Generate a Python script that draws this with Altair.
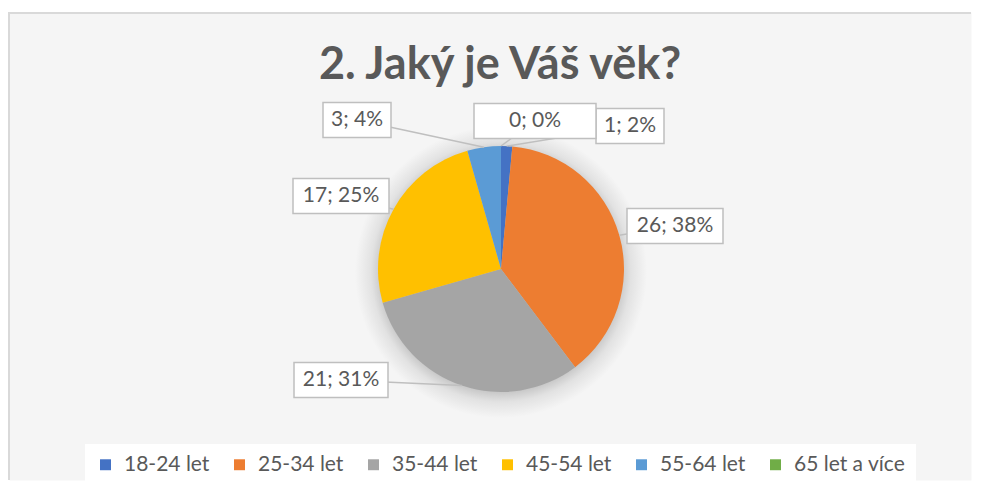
import math
import altair as alt
import pandas as pd

# ---- data ----
categories = ["18-24 let", "25-34 let", "35-44 let", "45-54 let", "55-64 let", "65 let a více"]
counts = [1, 26, 21, 17, 3, 0]
percents = [2, 38, 31, 25, 4, 0]
colors = ["#4472C4", "#ED7D31", "#A5A5A5", "#FFC000", "#5B9BD5", "#70AD47"]
title_text = "2. Jaký je Váš věk?"

# ---- layout (pixels inside the view) ----
W, H = 962, 468
CX, CY, R = 492, 257, 123
label_layout = [  # (box centre x, box centre y, box width)
    (621, 114, 68),
    (666, 214, 96),
    (332, 368, 94),
    (332, 184, 96),
    (348, 108, 68),
    (526, 109, 122),
]
BOX_H = 35
TEXT = "#595959"
FONT = "Lato"

# ---- tables ----
pie_df = pd.DataFrame({"category": categories, "count": counts, "idx": list(range(len(categories)))})

total = sum(counts)
rows = []
cum = 0
for cat, c, p, (bx, by, bw) in zip(categories, counts, percents, label_layout):
    mid = (cum + c / 2) / total * 2 * math.pi
    cum += c
    ex = CX + R * math.sin(mid)
    ey = CY - R * math.cos(mid)
    rows.append({
        "label": f"{c}; {p}%",
        "bx": bx, "by": by,
        "x1": bx - bw / 2, "x2": bx + bw / 2,
        "y1": by - BOX_H / 2, "y2": by + BOX_H / 2,
        "ex": ex, "ey": ey,
    })
lab_df = pd.DataFrame(rows)

one = pd.DataFrame({"t": [title_text]})

def px(field):
    return alt.X(f"{field}:Q", scale=None, axis=None)

def py(field):
    return alt.Y(f"{field}:Q", scale=None, axis=None)

shadow = alt.Chart(one).mark_arc(
    radius=146,
    color=alt.RadialGradient(
        gradient="radial",
        x1=0.5, y1=0.5, r1=0, x2=0.5, y2=0.5, r2=0.5,
        stops=[
            alt.GradientStop(color="#c0c0c0", offset=0),
            alt.GradientStop(color="#c0c0c0", offset=0.80),
            alt.GradientStop(color="#e2e2e2", offset=0.89),
            alt.GradientStop(color="#f5f5f5", offset=1),
        ],
    ),
).encode(x=alt.value(CX), y=alt.value(CY + 3))

pie = alt.Chart(pie_df).mark_arc(radius=R).encode(
    theta=alt.Theta("count:Q", stack=True),
    order=alt.Order("idx:Q"),
    color=alt.Color(
        "category:N",
        sort=categories,
        scale=alt.Scale(domain=categories, range=colors),
        legend=alt.Legend(
            title=None,
            orient="none",
            legendX=76,
            legendY=432,
            direction="horizontal",
            symbolType="square",
            symbolSize=120,
            symbolStrokeWidth=0,
            labelFont=FONT,
            labelFontSize=21,
            labelColor=TEXT,
            labelOffset=8,
            columnPadding=19,
            fillColor="white",
            padding=10,
            labelLimit=300,
        ),
    ),
    x=alt.value(CX),
    y=alt.value(CY),
)

leaders = alt.Chart(lab_df).mark_rule(color="#bfbfbf", strokeWidth=1.5).encode(
    x=px("bx"), y=py("by"), x2="ex:Q", y2="ey:Q"
)

boxes = alt.Chart(lab_df).mark_rect(fill="white", stroke="#bfbfbf", strokeWidth=1.5).encode(
    x=px("x1"), x2="x2:Q", y=py("y1"), y2="y2:Q"
)

texts = alt.Chart(lab_df).mark_text(
    font=FONT, fontSize=21, color=TEXT, align="center", baseline="middle"
).encode(x=px("bx"), y=py("by"), text="label:N")

title = alt.Chart(one).mark_text(
    font=FONT, fontSize=45, fontWeight="bold", color=TEXT, align="center", baseline="alphabetic"
).encode(x=alt.value(491), y=alt.value(67), text="t:N")

top_border = alt.Chart(one).mark_rule(color="#d9d9d9", strokeWidth=2).encode(
    x=alt.value(0), x2=alt.value(W), y=alt.value(1)
)
left_border = alt.Chart(one).mark_rule(color="#d9d9d9", strokeWidth=2).encode(
    x=alt.value(0), y=alt.value(0), y2=alt.value(H)
)

chart = alt.layer(
    shadow, pie, leaders, boxes, texts, title, top_border, left_border
).properties(
    width=W, height=H,
    padding={"left": 0, "top": 3, "right": 0, "bottom": 0},
    background="white",
).configure_view(fill="#f5f5f5", stroke="transparent")

chart.save("out.html", embed_options={"renderer": "svg", "actions": False})
